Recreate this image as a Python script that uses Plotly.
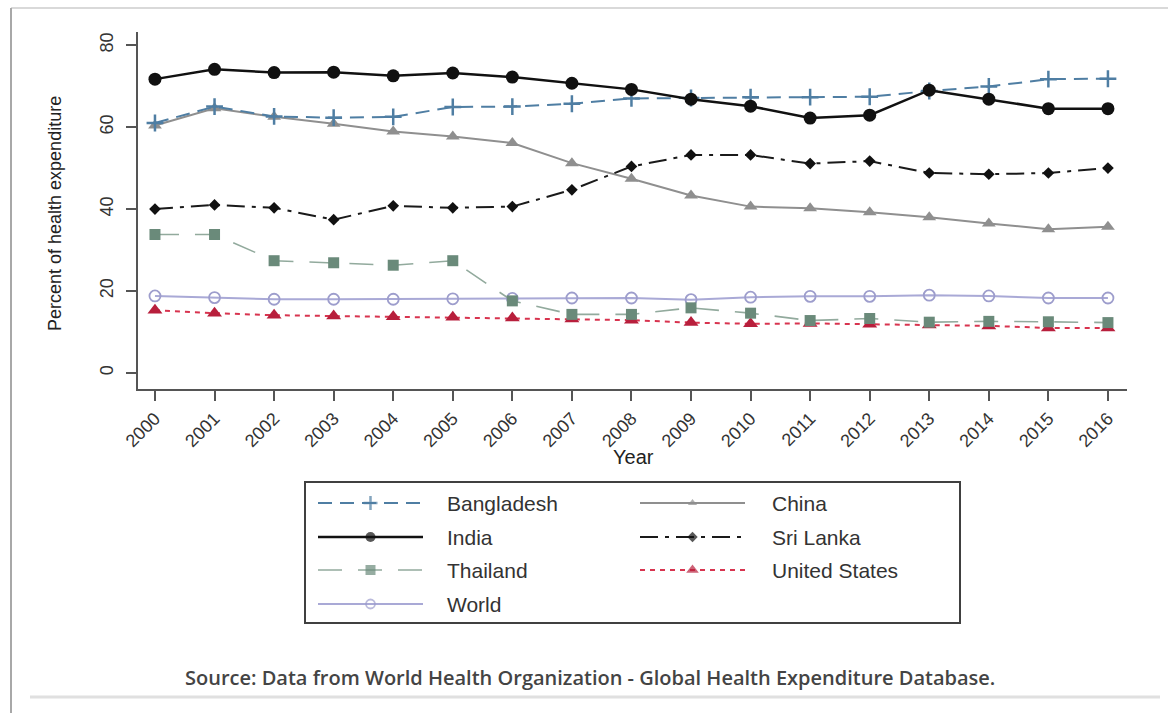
import plotly.graph_objects as go

# ---- data -------------------------------------------------------------
years = [2000, 2001, 2002, 2003, 2004, 2005, 2006, 2007, 2008,
         2009, 2010, 2011, 2012, 2013, 2014, 2015, 2016]

bangladesh = [61.0, 65.0, 62.6, 62.3, 62.5, 64.9, 65.0, 65.7, 67.0,
              67.1, 67.3, 67.3, 67.4, 68.8, 69.9, 71.7, 71.8]
china = [60.4, 64.6, 62.5, 60.8, 58.9, 57.7, 56.1, 51.2, 47.4,
         43.3, 40.6, 40.2, 39.2, 38.0, 36.5, 35.1, 35.7]
india = [71.7, 74.1, 73.3, 73.4, 72.5, 73.2, 72.2, 70.7, 69.2,
         66.8, 65.1, 62.2, 62.9, 69.0, 66.8, 64.5, 64.5]
sri_lanka = [40.0, 41.0, 40.3, 37.4, 40.8, 40.3, 40.6, 44.7, 50.4,
             53.2, 53.2, 51.1, 51.7, 48.8, 48.5, 48.8, 50.0]
thailand = [33.8, 33.8, 27.4, 26.9, 26.3, 27.4, 17.6, 14.3, 14.3,
            15.9, 14.6, 12.8, 13.3, 12.4, 12.6, 12.5, 12.3]
united_states = [15.3, 14.6, 14.1, 13.9, 13.7, 13.6, 13.4, 13.2, 12.9,
                 12.3, 12.0, 12.1, 11.9, 11.7, 11.5, 11.0, 11.0]
world = [18.8, 18.4, 18.0, 18.0, 18.0, 18.1, 18.2, 18.3, 18.3,
         17.9, 18.5, 18.7, 18.7, 19.0, 18.8, 18.3, 18.3]

y_ticks = [0, 20, 40, 60, 80]

series = [
    ("Bangladesh", bangladesh),
    ("China", china),
    ("India", india),
    ("Sri Lanka", sri_lanka),
    ("Thailand", thailand),
    ("United States", united_states),
    ("World", world),
]

# ---- styling ----------------------------------------------------------
styles = {
    "Bangladesh": dict(color="#4f7ea3", dash="14px,8px", width=2,
                       symbol="cross-thin", size=12, mcolor="#4f7ea3", mline=2.5, lsize=10),
    "China": dict(color="#8f8f8f", dash="solid", width=2,
                  symbol="triangle-up", size=12, mcolor="#8f8f8f", mline=0, lsize=8),
    "India": dict(color="#111111", dash="solid", width=2.5,
                  symbol="circle", size=13, mcolor="#111111", mline=0, lsize=10),
    "Sri Lanka": dict(color="#1a1a1a", dash="18px,7px,4px,7px", width=2,
                      symbol="diamond", size=9, mcolor="#111111", mline=0, lsize=8),
    "Thailand": dict(color="#92aa9d", dash="24px,16px", width=1.6,
                     symbol="square", size=11, mcolor="#6a8a7a", mline=0, lsize=10),
    "United States": dict(color="#d8344f", dash="5px,5px", width=2,
                          symbol="triangle-up", size=13, mcolor="#b81f3c", mline=0, lsize=11),
    "World": dict(color="#a9a9d6", dash="solid", width=2,
                  symbol="circle-open", size=11, mcolor="#9d9dcc", mline=1.8, lsize=9),
}

W, H = 1168, 713
plot_left, plot_right, plot_top, plot_bottom = 138, 1127, 32, 389
y_range = [-3.9, 83.2]
x_range = [1999.715, 2016.32]

fig = go.Figure()

# main data lines
draw_order = ["World", "United States", "Thailand", "China", "Sri Lanka", "Bangladesh", "India"]
data = dict(series)
for name in draw_order:
    s = styles[name]
    fig.add_trace(go.Scatter(
        x=years, y=data[name], mode="lines+markers", name=name,
        line=dict(color=s["color"], dash=s["dash"], width=s["width"]),
        marker=dict(symbol=s["symbol"], size=s["size"], color=s["mcolor"],
                    line=dict(width=s["mline"], color=s["mcolor"])),
        showlegend=False, xaxis="x", yaxis="y",
    ))

# legend drawn in a pixel-space overlay axis
legend_rows = [503, 537, 570, 604]
legend_cols = [(318, 423, 445), (640, 745, 770)]
annotations = []
for i, (name, _) in enumerate(series):
    s = styles[name]
    row, col = divmod(i, 2)
    x0, x1, xt = legend_cols[col]
    yy = legend_rows[row]
    fig.add_trace(go.Scatter(
        x=[x0, (x0 + x1) / 2, x1], y=[yy, yy, yy], mode="lines+markers",
        line=dict(color=s["color"], dash=s["dash"], width=s["width"]),
        marker=dict(symbol=s["symbol"], size=[0, s["lsize"], 0], color=s["mcolor"],
                    line=dict(width=s["mline"], color=s["mcolor"])),
        showlegend=False, xaxis="x2", yaxis="y2", hoverinfo="skip",
    ))
    annotations.append(dict(
        x=xt, y=yy, xref="x2", yref="y2", text=name, showarrow=False,
        xanchor="left", yanchor="middle",
        font=dict(family="Liberation Sans, Arial", size=21, color="#333333"),
    ))

# axis titles and source note
annotations.append(dict(
    x=55, y=214, xref="x2", yref="y2", text="Percent of health expenditure",
    textangle=-90, showarrow=False, xanchor="center", yanchor="middle",
    font=dict(family="Liberation Sans, Arial", size=18, color="#222222"),
))
annotations.append(dict(
    x=633, y=457, xref="x2", yref="y2", text="Year", showarrow=False,
    xanchor="center", yanchor="middle",
    font=dict(family="Liberation Sans, Arial", size=20, color="#222222"),
))
annotations.append(dict(
    x=590, y=677, xref="x2", yref="y2",
    text="Source: Data from World Health Organization - Global Health Expenditure Database.",
    showarrow=False, xanchor="center", yanchor="middle",
    font=dict(family="Open Sans", size=20, color="#444444", weight=600),
))

shapes = [
    # legend frame
    dict(type="rect", xref="x2", yref="y2", x0=305, x1=960, y0=482, y1=623,
         line=dict(color="#404040", width=2), fillcolor="rgba(0,0,0,0)", layer="below"),
    # outer frame lines
    dict(type="line", xref="x2", yref="y2", x0=11, x1=1168, y0=8, y1=8,
         line=dict(color="#d9d9d9", width=2)),
    dict(type="line", xref="x2", yref="y2", x0=11, x1=11, y0=8, y1=713,
         line=dict(color="#a8a8a8", width=2)),
    dict(type="line", xref="x2", yref="y2", x0=30, x1=1160, y0=697, y1=697,
         line=dict(color="#e0e0e0", width=3)),
]

axis_color = "#555555"
fig.update_layout(
    width=W, height=H,
    margin=dict(l=0, r=0, t=0, b=0),
    paper_bgcolor="white", plot_bgcolor="rgba(0,0,0,0)",
    showlegend=False,
    xaxis=dict(
        domain=[plot_left / W, plot_right / W], range=x_range,
        tickmode="array", tickvals=years, ticktext=[str(y) for y in years],
        tickangle=-45, ticks="outside", ticklen=10, tickwidth=2, tickcolor=axis_color,
        showline=True, linecolor=axis_color, linewidth=2, showgrid=False, zeroline=False,
        tickfont=dict(family="Liberation Sans, Arial", size=18, color="#333333"),
        automargin=False, anchor="y",
    ),
    yaxis=dict(
        domain=[(H - plot_bottom) / H, (H - plot_top) / H], range=y_range,
        tickmode="array", tickvals=y_ticks, tickangle=-90,
        ticks="outside", ticklen=10, tickwidth=2, tickcolor=axis_color,
        showline=True, linecolor=axis_color, linewidth=2, showgrid=False, zeroline=False,
        tickfont=dict(family="Liberation Sans, Arial", size=18, color="#333333"),
        ticklabelstandoff=6,
        automargin=False, anchor="x",
    ),
    xaxis2=dict(domain=[0, 1], range=[0, W], visible=False, anchor="y2", fixedrange=True),
    yaxis2=dict(domain=[0, 1], range=[H, 0], visible=False, anchor="x2", fixedrange=True),
    annotations=annotations,
    shapes=shapes,
)

fig.write_html("out.html")
